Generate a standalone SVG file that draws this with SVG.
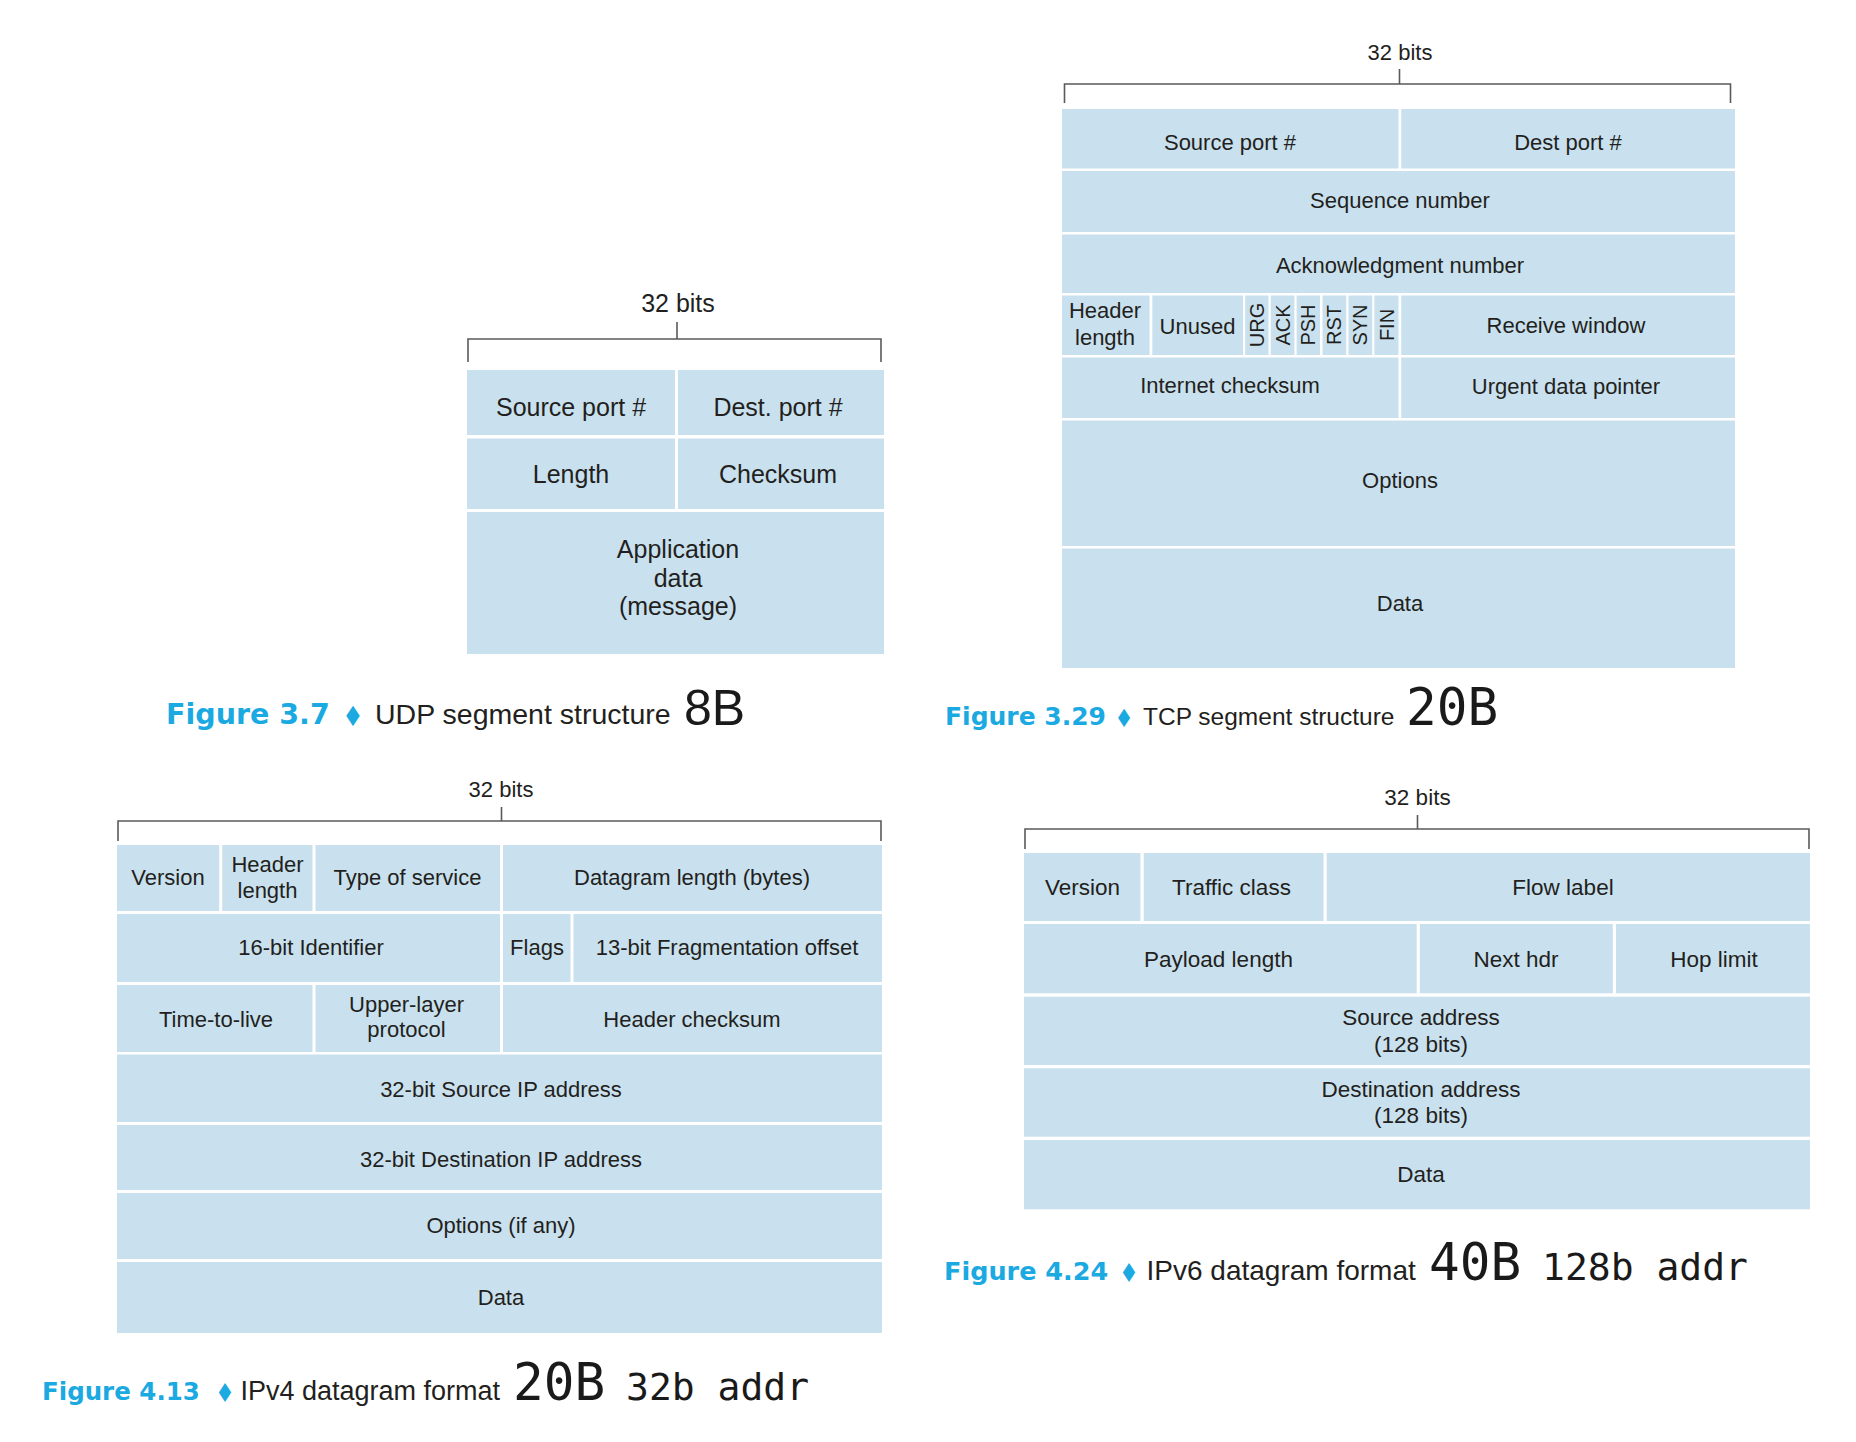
<svg xmlns="http://www.w3.org/2000/svg" width="1856" height="1442" viewBox="0 0 1856 1442">
<style>
.bg{fill:#ffffff}
.cell{fill:#c9e1ee}
.t{font-family:"Liberation Sans",Arial,sans-serif;fill:#231f20;text-anchor:middle}
.s25{font-size:25px}
.s22{font-size:22px}
.s23{font-size:22.5px}
.flag{font-size:20px}
.brk{fill:none;stroke:#5a5a5a;stroke-width:1.6}
.fig{font-family:"DejaVu Sans","Liberation Sans",sans-serif;font-weight:bold;fill:#1ba9e1}
.dia{font-family:"DejaVu Sans",sans-serif;fill:#1ba9e1;text-anchor:middle}
.cap{font-family:"Liberation Sans",Arial,sans-serif;fill:#231f20}
.big{font-family:"Liberation Sans",Arial,sans-serif;fill:#1a1a1a;font-size:50px}
.mono{font-family:"DejaVu Sans Mono","Liberation Mono",monospace;fill:#1a1a1a}
</style>
<rect class="bg" x="0" y="0" width="1856" height="1442"/>

<g id="connectors">
  <path id="udp-bracket" class="brk" d="M677,322 V339 M468,362 V339 H881 V362"/>
  <path id="tcp-bracket" class="brk" d="M1399.5,69 V84 M1064.5,103 V84 H1730.5 V103"/>
  <path id="ipv4-bracket" class="brk" d="M501.5,807 V821 M118,841 V821 H881 V841"/>
  <path id="ipv6-bracket" class="brk" d="M1417.5,815 V829 M1025,849 V829 H1809 V849"/>
</g>

<!-- UDP -->
<g id="udp">
  <text id="udp-bits" class="t s25" x="678" y="312">32 bits</text>
  <g id="udp-srcport"><rect class="cell" x="467" y="370" width="208" height="65"/><text class="t s25" x="571" y="416">Source port #</text></g>
  <g id="udp-dstport"><rect class="cell" x="678" y="370" width="206" height="65"/><text class="t s25" x="778" y="416">Dest. port #</text></g>
  <g id="udp-length"><rect class="cell" x="467" y="438.5" width="208" height="70.5"/><text class="t s25" x="571" y="483">Length</text></g>
  <g id="udp-checksum"><rect class="cell" x="678" y="438.5" width="206" height="70.5"/><text class="t s25" x="778" y="483">Checksum</text></g>
  <g id="udp-data"><rect class="cell" x="467" y="512" width="417" height="142"/>
    <text class="t s25" x="678" y="558">Application</text>
    <text class="t s25" x="678" y="587">data</text>
    <text class="t s25" x="678" y="615">(message)</text></g>
  <g id="udp-caption">
    <text class="fig" x="166" y="724" font-size="28.5">Figure 3.7</text>
    <text class="dia" transform="translate(353,726) scale(0.85,1)" font-size="28">♦</text>
    <text class="cap" x="375" y="724" font-size="28.5">UDP segment structure</text>
    <text class="big" x="684" y="725">8B</text>
  </g>
</g>

<!-- TCP -->
<g id="tcp">
  <text id="tcp-bits" class="t s22" x="1400" y="60">32 bits</text>
  <g id="tcp-srcport"><rect class="cell" x="1062" y="109" width="336.5" height="59.5"/><text class="t s22" x="1230" y="150">Source port #</text></g>
  <g id="tcp-dstport"><rect class="cell" x="1401.2" y="109" width="333.8" height="59.5"/><text class="t s22" x="1568" y="150">Dest port #</text></g>
  <g id="tcp-seq"><rect class="cell" x="1062" y="171" width="673" height="61"/><text class="t s22" x="1400" y="208">Sequence number</text></g>
  <g id="tcp-ack"><rect class="cell" x="1062" y="234.5" width="673" height="58.5"/><text class="t s22" x="1400" y="272.5">Acknowledgment number</text></g>
  <g id="tcp-hlen"><rect class="cell" x="1062" y="295.5" width="87.6" height="59.5"/><text class="t s22" x="1105" y="318">Header</text><text class="t s22" x="1105" y="345">length</text></g>
  <g id="tcp-unused"><rect class="cell" x="1152.3" y="295.5" width="90.7" height="59.5"/><text class="t s22" x="1197.5" y="333.5">Unused</text></g>
  <g id="tcp-urg"><rect class="cell" x="1245.2" y="295.5" width="23.3" height="59.5"/><text class="t flag" dy="7" transform="translate(1256.9,325) rotate(-90)">URG</text></g>
  <g id="tcp-ackf"><rect class="cell" x="1270.7" y="295.5" width="23.7" height="59.5"/><text class="t flag" dy="7" transform="translate(1282.6,325) rotate(-90)">ACK</text></g>
  <g id="tcp-psh"><rect class="cell" x="1296.6" y="295.5" width="23.4" height="59.5"/><text class="t flag" dy="7" transform="translate(1308.3,325) rotate(-90)">PSH</text></g>
  <g id="tcp-rst"><rect class="cell" x="1322.5" y="295.5" width="23.7" height="59.5"/><text class="t flag" dy="7" transform="translate(1334.4,325) rotate(-90)">RST</text></g>
  <g id="tcp-syn"><rect class="cell" x="1348.5" y="295.5" width="23.7" height="59.5"/><text class="t flag" dy="7" transform="translate(1360.4,325) rotate(-90)">SYN</text></g>
  <g id="tcp-fin"><rect class="cell" x="1374.4" y="295.5" width="24.1" height="59.5"/><text class="t flag" dy="7" transform="translate(1386.5,325) rotate(-90)">FIN</text></g>
  <g id="tcp-rwnd"><rect class="cell" x="1401.2" y="295.5" width="333.8" height="59.5"/><text class="t s22" x="1566" y="333">Receive window</text></g>
  <g id="tcp-checksum"><rect class="cell" x="1062" y="357.5" width="336.5" height="60.5"/><text class="t s22" x="1230" y="393">Internet checksum</text></g>
  <g id="tcp-urgptr"><rect class="cell" x="1401.2" y="357.5" width="333.8" height="60.5"/><text class="t s22" x="1566" y="393.5">Urgent data pointer</text></g>
  <g id="tcp-options"><rect class="cell" x="1062" y="420.5" width="673" height="125.5"/><text class="t s22" x="1400" y="488">Options</text></g>
  <g id="tcp-data"><rect class="cell" x="1062" y="548.5" width="673" height="119.5"/><text class="t s22" x="1400" y="610.5">Data</text></g>
  <g id="tcp-caption">
    <text class="fig" x="945" y="725" font-size="25">Figure 3.29</text>
    <text class="dia" transform="translate(1124,727) scale(0.85,1)" font-size="25">♦</text>
    <text class="cap" x="1143" y="725" font-size="24.5">TCP segment structure</text>
    <text class="mono" x="1406" y="725" font-size="51">20B</text>
  </g>
</g>

<!-- IPv4 -->
<g id="ipv4">
  <text id="ipv4-bits" class="t s22" x="501" y="797">32 bits</text>
  <g id="ipv4-version"><rect class="cell" x="117" y="845" width="102.2" height="66"/><text class="t s22" x="168" y="885">Version</text></g>
  <g id="ipv4-hlen"><rect class="cell" x="222.2" y="845" width="90.3" height="66"/><text class="t s22" x="267.5" y="871.5">Header</text><text class="t s22" x="267.5" y="898">length</text></g>
  <g id="ipv4-tos"><rect class="cell" x="315.5" y="845" width="184.5" height="66"/><text class="t s22" x="407.5" y="885">Type of service</text></g>
  <g id="ipv4-dlen"><rect class="cell" x="503" y="845" width="379" height="66"/><text class="t s22" x="692" y="885">Datagram length (bytes)</text></g>
  <g id="ipv4-ident"><rect class="cell" x="117" y="914" width="383" height="68"/><text class="t s22" x="311" y="955">16-bit Identifier</text></g>
  <g id="ipv4-flags"><rect class="cell" x="503" y="914" width="67.5" height="68"/><text class="t s22" x="537" y="955">Flags</text></g>
  <g id="ipv4-frag"><rect class="cell" x="573.5" y="914" width="308.5" height="68"/><text class="t s22" x="727" y="955">13-bit Fragmentation offset</text></g>
  <g id="ipv4-ttl"><rect class="cell" x="117" y="985" width="195.5" height="67"/><text class="t s22" x="216" y="1026.5">Time-to-live</text></g>
  <g id="ipv4-proto"><rect class="cell" x="315.5" y="985" width="184.5" height="67"/><text class="t s22" x="406.5" y="1011.5">Upper-layer</text><text class="t s22" x="406.5" y="1036.5">protocol</text></g>
  <g id="ipv4-hcsum"><rect class="cell" x="503" y="985" width="379" height="67"/><text class="t s22" x="692" y="1026.5">Header checksum</text></g>
  <g id="ipv4-src"><rect class="cell" x="117" y="1054.5" width="765" height="67.5"/><text class="t s22" x="501" y="1096.5">32-bit Source IP address</text></g>
  <g id="ipv4-dst"><rect class="cell" x="117" y="1125" width="765" height="65"/><text class="t s22" x="501" y="1166.5">32-bit Destination IP address</text></g>
  <g id="ipv4-options"><rect class="cell" x="117" y="1193" width="765" height="66"/><text class="t s22" x="501" y="1233">Options (if any)</text></g>
  <g id="ipv4-data"><rect class="cell" x="117" y="1262" width="765" height="71"/><text class="t s22" x="501" y="1305">Data</text></g>
  <g id="ipv4-caption">
    <text class="fig" x="42" y="1400" font-size="24.5">Figure 4.13</text>
    <text class="dia" transform="translate(225,1402) scale(0.85,1)" font-size="26">♦</text>
    <text class="cap" x="240.5" y="1400" font-size="27">IPv4 datagram format</text>
    <text class="mono" x="513" y="1399.5" font-size="51">20B</text>
    <text class="mono" x="626" y="1399.5" font-size="38">32b addr</text>
  </g>
</g>

<!-- IPv6 -->
<g id="ipv6">
  <text id="ipv6-bits" class="t s23" x="1417.5" y="805">32 bits</text>
  <g id="ipv6-version"><rect class="cell" x="1024" y="853" width="116.5" height="68"/><text class="t s23" x="1082.5" y="895">Version</text></g>
  <g id="ipv6-tclass"><rect class="cell" x="1143.7" y="853" width="179.9" height="68"/><text class="t s23" x="1231.5" y="895">Traffic class</text></g>
  <g id="ipv6-flow"><rect class="cell" x="1326.7" y="853" width="483.3" height="68"/><text class="t s23" x="1563" y="895">Flow label</text></g>
  <g id="ipv6-plen"><rect class="cell" x="1024" y="924" width="392.7" height="69.3"/><text class="t s23" x="1218.5" y="966.5">Payload length</text></g>
  <g id="ipv6-next"><rect class="cell" x="1419.8" y="924" width="193" height="69.3"/><text class="t s23" x="1516" y="966.5">Next hdr</text></g>
  <g id="ipv6-hop"><rect class="cell" x="1615.9" y="924" width="194.1" height="69.3"/><text class="t s23" x="1714" y="966.5">Hop limit</text></g>
  <g id="ipv6-src"><rect class="cell" x="1024" y="996.7" width="786" height="68.3"/><text class="t s23" x="1421" y="1025">Source address</text><text class="t s23" x="1421" y="1051.5">(128 bits)</text></g>
  <g id="ipv6-dst"><rect class="cell" x="1024" y="1068.3" width="786" height="68.4"/><text class="t s23" x="1421" y="1096.5">Destination address</text><text class="t s23" x="1421" y="1123">(128 bits)</text></g>
  <g id="ipv6-data"><rect class="cell" x="1024" y="1140" width="786" height="69.3"/><text class="t s23" x="1421" y="1181.5">Data</text></g>
  <g id="ipv6-caption">
    <text class="fig" x="944" y="1280" font-size="25.5">Figure 4.24</text>
    <text class="dia" transform="translate(1129,1282) scale(0.85,1)" font-size="26">♦</text>
    <text class="cap" x="1146.5" y="1280" font-size="28">IPv6 datagram format</text>
    <text class="mono" x="1429" y="1279.5" font-size="51">40B</text>
    <text class="mono" x="1542" y="1280" font-size="38">128b addr</text>
  </g>
</g>
</svg>
